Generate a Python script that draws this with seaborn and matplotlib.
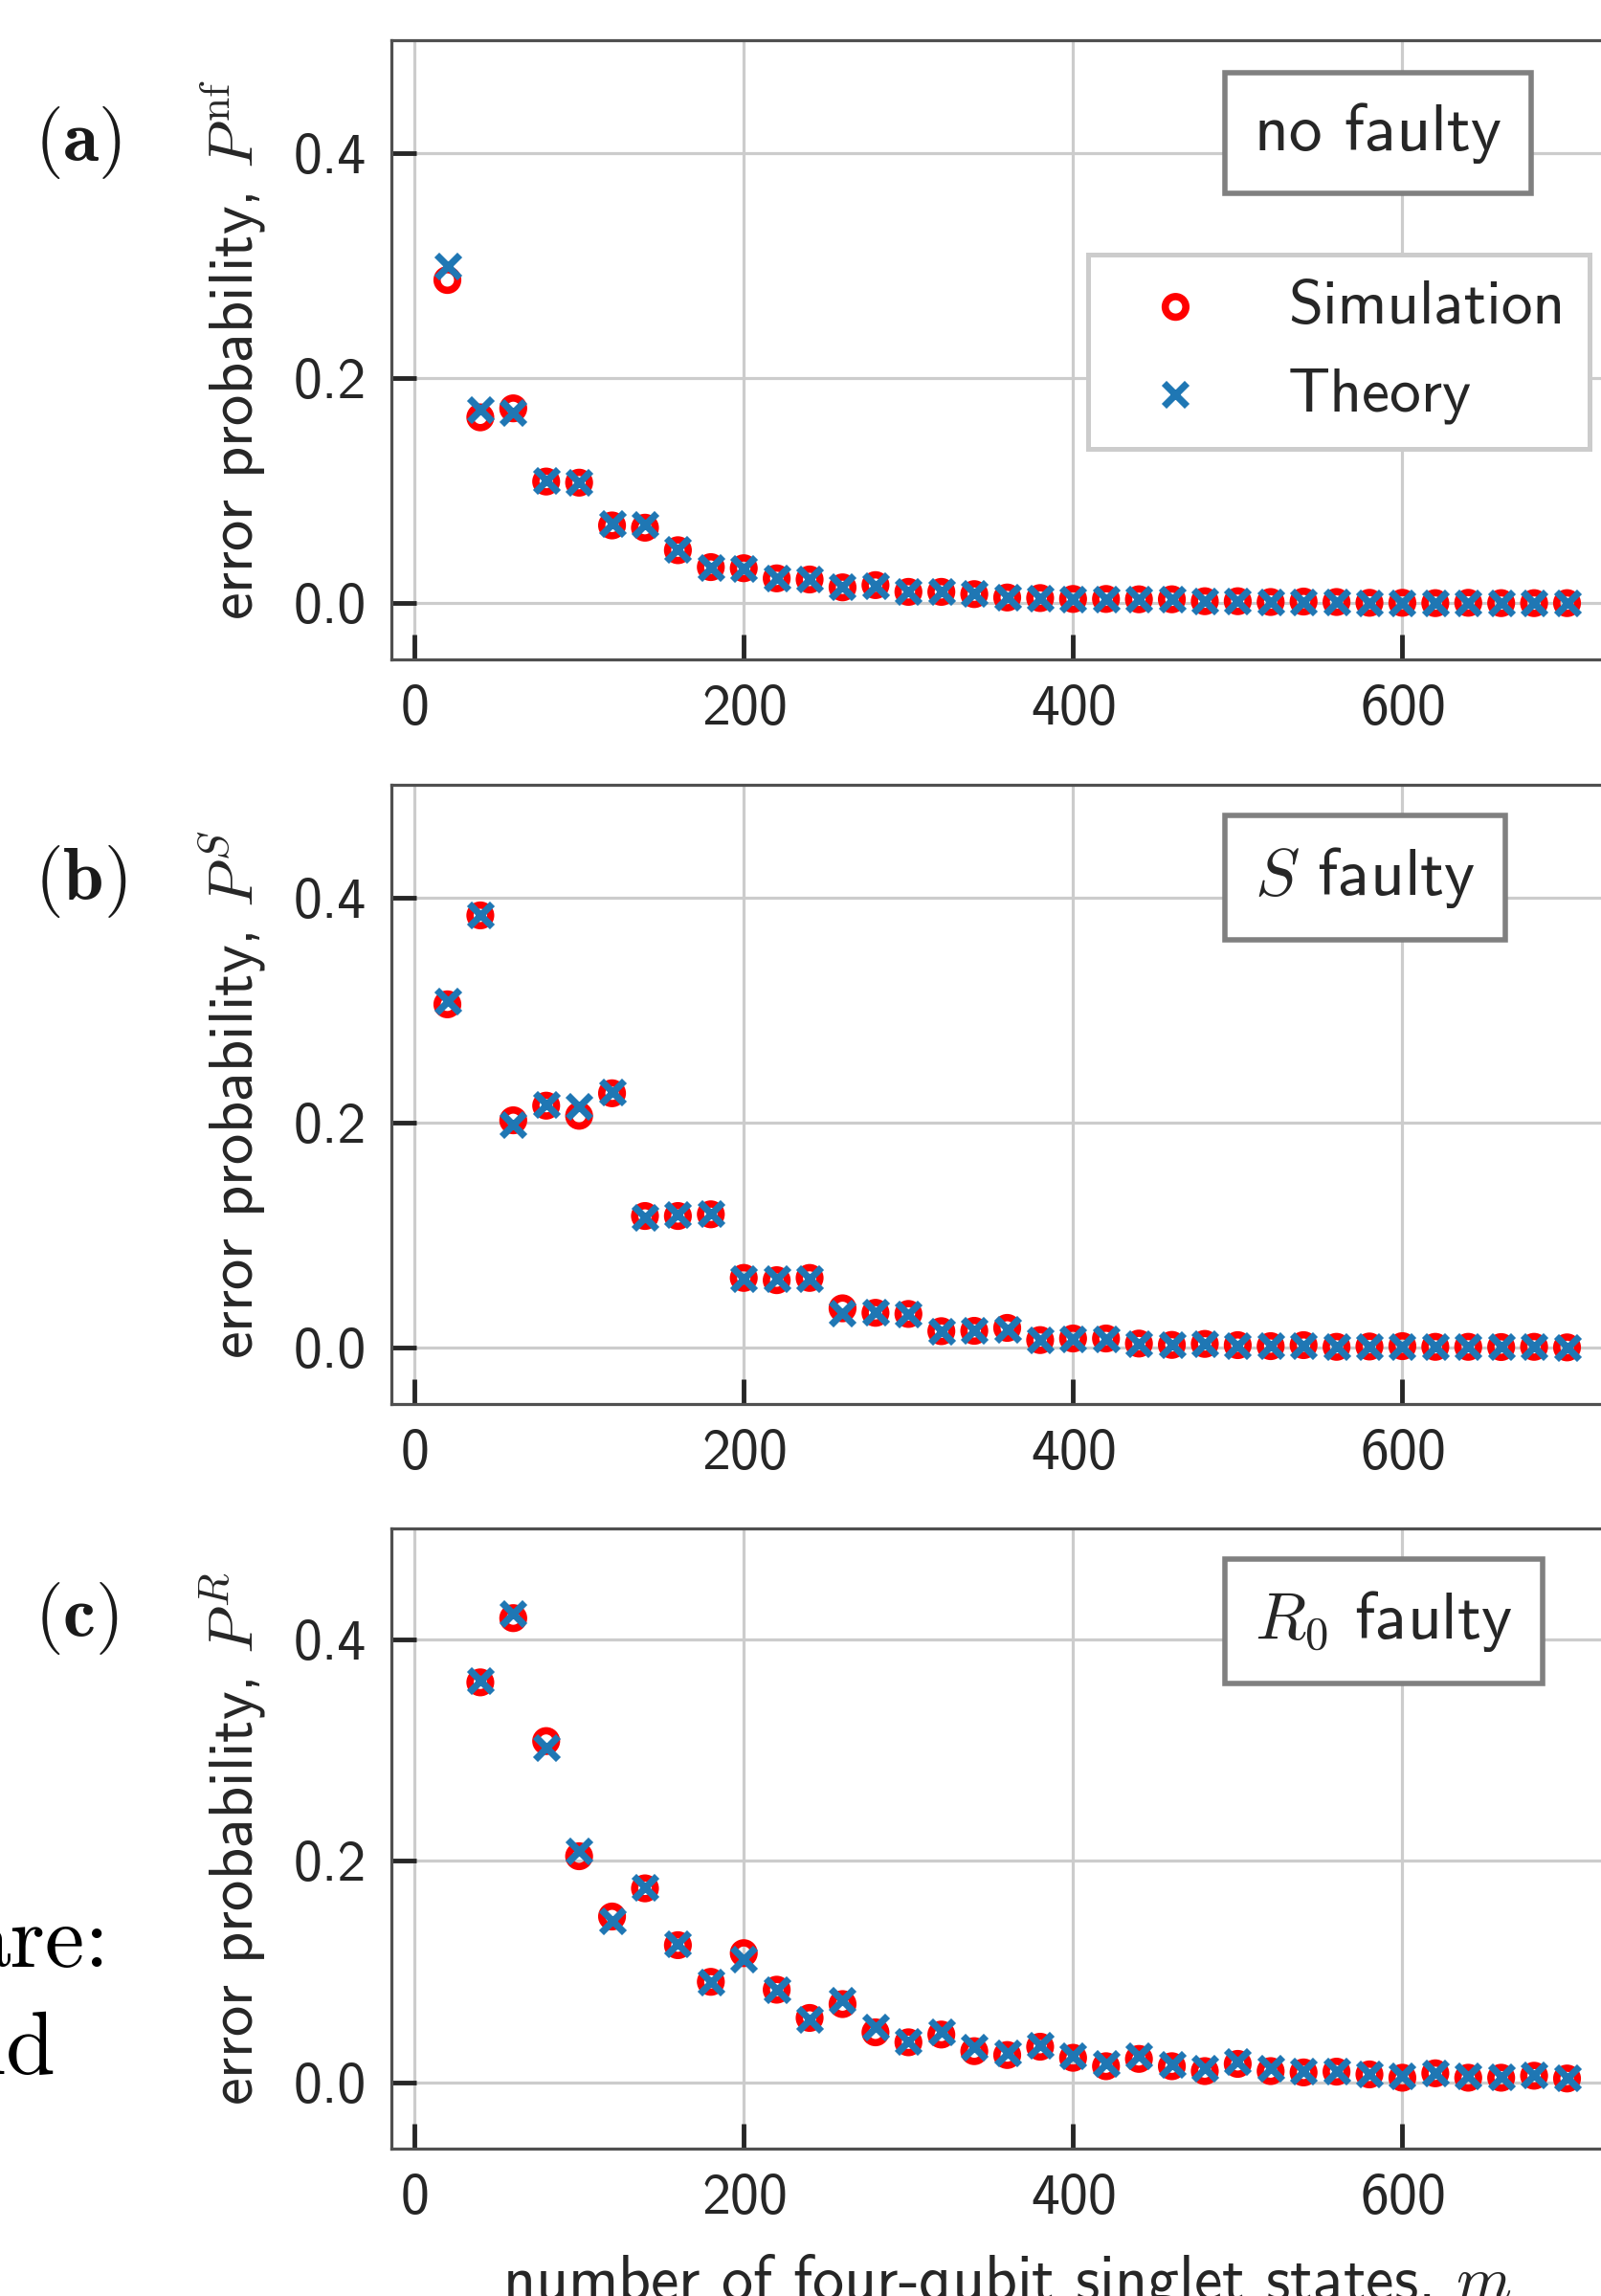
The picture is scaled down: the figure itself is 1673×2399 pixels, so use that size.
import matplotlib
matplotlib.use("Agg")
import matplotlib.pyplot as plt
import seaborn as sns

# ================================
# Data
# ================================
m_ab = [20, 40, 60, 80, 100, 120, 140, 160, 180, 200, 220, 240, 260, 280, 300, 320, 340, 360,
        380, 400, 420, 440, 460, 480, 500, 520, 540, 560, 580, 600, 620, 640, 660, 680, 700]
m_c = m_ab[1:]

sim_nf = [0.287, 0.165, 0.173, 0.108, 0.107, 0.069, 0.067, 0.047, 0.032, 0.031, 0.022, 0.021,
          0.014, 0.016, 0.010, 0.010, 0.008, 0.005, 0.0045, 0.0037, 0.0037, 0.0034, 0.0034,
          0.0017, 0.0017, 0.0010, 0.0014, 0.0010, 0.0003, 0.0003, 0.0, 0.0003, 0.0, 0.0, 0.0]
th_nf = [0.299, 0.172, 0.169, 0.109, 0.107, 0.071, 0.070, 0.048, 0.032, 0.031, 0.022, 0.021,
         0.015, 0.0156, 0.010, 0.010, 0.0085, 0.0055, 0.0045, 0.0038, 0.0036, 0.0034, 0.0032,
         0.0018, 0.0017, 0.0011, 0.0012, 0.0009, 0.0005, 0.0004, 0.0002, 0.0003, 0.0001, 0.0001, 0.0001]

sim_S = [0.305, 0.384, 0.202, 0.215, 0.206, 0.226, 0.117, 0.117, 0.1185, 0.062, 0.060, 0.062,
         0.035, 0.031, 0.030, 0.0147, 0.015, 0.0176, 0.0068, 0.0082, 0.0082, 0.0037, 0.0025,
         0.0034, 0.0023, 0.0014, 0.0023, 0.0008, 0.0011, 0.0014, 0.0008, 0.0008, 0.0006, 0.0008, 0.0003]
th_S = [0.308, 0.384, 0.198, 0.216, 0.2147, 0.227, 0.116, 0.118, 0.119, 0.0614, 0.0614, 0.0614,
        0.031, 0.0317, 0.030, 0.0147, 0.0155, 0.016, 0.0070, 0.0080, 0.0080, 0.0036, 0.0027,
        0.0034, 0.0022, 0.0015, 0.0022, 0.0010, 0.0011, 0.0013, 0.0008, 0.0008, 0.0006, 0.0007, 0.0004]

sim_R = [0.361, 0.419, 0.308, 0.204, 0.1496, 0.175, 0.1237, 0.0906, 0.1165, 0.0835, 0.058,
         0.0705, 0.045, 0.036, 0.043, 0.028, 0.0245, 0.032, 0.022, 0.0144, 0.021, 0.0144,
         0.010, 0.0165, 0.010, 0.0088, 0.0095, 0.007, 0.004, 0.008, 0.004, 0.004, 0.0058, 0.0033]
th_R = [0.3626, 0.423, 0.302, 0.2086, 0.146, 0.1755, 0.125, 0.0906, 0.111, 0.0835, 0.057,
        0.0737, 0.0495, 0.0365, 0.0455, 0.032, 0.026, 0.033, 0.0235, 0.0165, 0.0235, 0.0158,
        0.0122, 0.0183, 0.0122, 0.0103, 0.0097, 0.0075, 0.0058, 0.0085, 0.0055, 0.005, 0.0062, 0.0040]

panels = [
    ("a", m_ab, sim_nf, th_nf, r"error probability, $P^{\rm nf}$", "no faulty", (-0.05, 0.5)),
    ("b", m_ab, sim_S, th_S, r"error probability, $P^{S}$", r"$S$ faulty", (-0.05, 0.5)),
    ("c", m_c, sim_R, th_R, r"error probability, $P^{R}$", r"$R_0$ faulty", (-0.06, 0.5)),
]

# ================================
# Style
# ================================
sns.set_theme(style="whitegrid")
plt.rcParams["font.family"] = ["cmss10", "DejaVu Sans"]
plt.rcParams["mathtext.fontset"] = "cm"
plt.rcParams["axes.unicode_minus"] = False
plt.rcParams["axes.formatter.use_mathtext"] = True

W, H = 1673, 2399
fig = plt.figure(figsize=(W / 100, H / 100), dpi=100)

# axes boxes in pixels: (left, top, width, height)
boxes = [(409, 42, 1287, 647), (409, 820, 1287, 647), (409, 1597, 1287, 648)]
label_y = [149, 921, 1691]

for (tag, m, sim, th, ylab, note, ylim), (l, t, w, h), ly in zip(panels, boxes, label_y):
    ax = fig.add_axes([l / W, 1 - (t + h) / H, w / W, h / H])

    sns.scatterplot(x=m, y=sim, ax=ax, marker="o", s=240, facecolors="none",
                    edgecolor="#ff0000", color="#ff0000", linewidth=5.5, label="Simulation", zorder=3)
    sns.scatterplot(x=m, y=th, ax=ax, marker="x", s=300, color="#1f77b4",
                    linewidth=5.2, label="Theory", zorder=4)

    ax.set_xlim(-14, 734)
    ax.set_ylim(*ylim)
    ax.set_xticks([0, 200, 400, 600])
    ax.set_yticks([0.0, 0.2, 0.4])
    ax.set_yticklabels(["0.0", "0.2", "0.4"])
    ax.grid(True, color="#cccccc", linewidth=2.3)
    ax.tick_params(axis="both", direction="in", length=19, width=3.5, color="#262626",
                   labelsize=43, labelcolor="#262626", pad=19, left=True, bottom=True)
    for sp in ax.spines.values():
        sp.set_color("#505050")
        sp.set_linewidth(2.3)

    ax.set_ylabel(ylab, fontsize=46.5, color="#262626")
    ax.yaxis.set_label_coords(-0.100, 0.5)

    ax.text(0.701, 0.850, note, transform=ax.transAxes, ha="left", va="center",
            fontsize=50, color="#262626",
            bbox=dict(boxstyle="square,pad=0.45", fc="white", ec="#808080", lw=4))

    fig.text(36 / W, 1 - ly / H, r"$(\mathbf{%s})$" % tag, ha="left", va="center",
             fontsize=55, color="#1a1a1a")

    if tag == "a":
        leg = ax.legend(loc="upper left", bbox_to_anchor=(0.5657, 0.6538), borderaxespad=0,
                        fontsize=47, frameon=True, fancybox=False, framealpha=1,
                        edgecolor="#cccccc", scatterpoints=1)
        leg.get_frame().set_linewidth(3.6)
        for txt in leg.get_texts():
            txt.set_color("#262626")
    else:
        ax.get_legend().remove()

    if tag == "c":
        ax.set_xlabel(r"number of four-qubit singlet states, $m$", fontsize=47.5,
                      color="#262626", labelpad=20)
    else:
        ax.set_xlabel("")

# page text cut off at the left edge
fig.text(114 / W, 1 - 2055 / H, "are:", ha="right", va="baseline",
         family="cmr10", fontsize=67, color="black")
fig.text(58 / W, 1 - 2167 / H, "and", ha="right", va="baseline",
         family="cmr10", fontsize=67, color="black")

fig.savefig("out.png", dpi=100)
